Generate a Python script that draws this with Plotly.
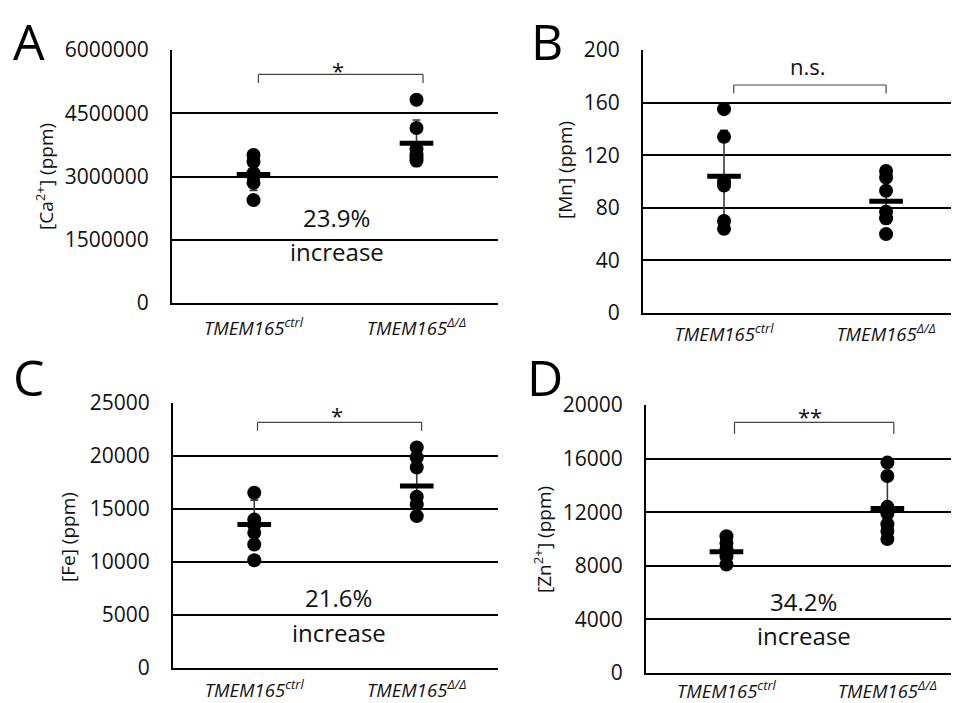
import plotly.graph_objects as go

# ---------------- data ----------------
groups = ["ctrl", "KO"]
group_labels = ["<i>TMEM165<sup>ctrl</sup></i>", "<i>TMEM165<sup>Δ/Δ</sup></i>"]

ca_ctrl = [3510000, 3350000, 3080000, 3000000, 2850000, 2440000]
ca_ko = [4820000, 4150000, 3650000, 3520000, 3450000, 3380000]
ca_mean = [3050000, 3790000]
ca_sd = [380000, 550000]

mn_ctrl = [155, 134, 100, 97, 70, 64]
mn_ko = [108, 103, 93, 77, 72, 60]
mn_mean = [104, 85]
mn_sd = [35, 17]

fe_ctrl = [16540, 14000, 13500, 12750, 11650, 10160]
fe_ko = [20800, 19860, 18910, 16160, 15430, 14330]
fe_mean = [13540, 17170]
fe_sd = [2300, 2600]

zn_ctrl = [10200, 9700, 9250, 9000, 8700, 8100]
zn_ko = [15700, 14700, 12400, 11900, 11100, 10600, 10000]
zn_mean = [9050, 12280]
zn_sd = [800, 2100]

y_titles = ["[Ca<sup>2+</sup>] (ppm)", "[Mn] (ppm)", "[Fe] (ppm)", "[Zn<sup>2+</sup>] (ppm)"]
panel_letters = ["A", "B", "C", "D"]
y_max = [6000000, 200, 25000, 20000]
y_step = [1500000, 40, 5000, 4000]
sig_labels = ["*", "n.s.", "*", "**"]
bracket_top = [5420000, 173.4, 23170, 18700]
bracket_foot = [5220000, 167, 22380, 17830]
sig_y = [5520000, 188, 23900, 19150]
pct_labels = ["23.9%", None, "21.6%", "34.2%"]
pct_y = [2016000, None, 6630, 5318]
inc_y = [1210000, None, 3314, 2772]

panels = [
    (ca_ctrl, ca_ko, ca_mean, ca_sd),
    (mn_ctrl, mn_ko, mn_mean, mn_sd),
    (fe_ctrl, fe_ko, fe_mean, fe_sd),
    (zn_ctrl, zn_ko, zn_mean, zn_sd),
]

# ---------------- layout geometry (screen pixels) ----------------
OFF = 8                       # default page body margin of the html page
W, H = 959 - OFF, 703 - OFF   # figure size so that it fills the window


def px(x):
    return (x - OFF) / W


def py(y):
    return 1 - (y - OFF) / H


boxes = [  # left, right, top, bottom
    (172, 498, 50, 303),
    (643, 959, 50, 313),
    (173, 498, 403, 668),
    (646, 959, 405, 673),
]
x_ranges = [[-0.5, 1.5], [-0.5, 1.45], [-0.5, 1.5], [-0.5, 1.445]]
x_label_gap = [8, 4, 5, 1]
letter_pos = [(29, 41), (547, 41), (29, 377), (545, 377)]
ytitle_pos = [(45, 177), (565, 170), (68, 537), (543, 540)]
bracket_x = [(0.03, 1.04), (0.06, 1.0), (0.02, 1.03), (0.05, 1.04)]
sig_x = [0.52, 0.52, 0.51, 0.52]
pct_x = [0.51, None, 0.52, 0.48]

FONT = "Open Sans"
INK = "#111111"

fig = go.Figure()
annotations = []
shapes = []

for i, (ctrl, ko, mean, sd) in enumerate(panels):
    n = "" if i == 0 else str(i + 1)
    xa, ya = "x" + n, "y" + n
    l, r, t, b = boxes[i]

    # error bars
    fig.add_trace(go.Scatter(
        x=groups, y=mean, mode="markers", xaxis=xa, yaxis=ya,
        marker=dict(color="rgba(0,0,0,0)", size=1),
        error_y=dict(type="data", array=sd, visible=True, color="#3a3a3a",
                     thickness=1.6, width=4),
        showlegend=False, hoverinfo="skip", cliponaxis=False))
    # individual points
    fig.add_trace(go.Scatter(
        x=[groups[0]] * len(ctrl) + [groups[1]] * len(ko), y=ctrl + ko,
        mode="markers", xaxis=xa, yaxis=ya,
        marker=dict(color="black", size=14, symbol="circle"),
        showlegend=False, cliponaxis=False))
    # mean bars
    fig.add_trace(go.Scatter(
        x=groups, y=mean, mode="markers", xaxis=xa, yaxis=ya,
        marker=dict(symbol="line-ew", size=24, line=dict(color="black", width=5)),
        showlegend=False, cliponaxis=False))

    axis_x = dict(
        domain=[px(l), min(px(r), 1.0)], anchor=ya, type="category", automargin=False,
        range=x_ranges[i], tickmode="array", tickvals=groups, ticktext=group_labels,
        showline=True, linecolor="black", linewidth=2, showgrid=False,
        ticks="", ticklabelstandoff=x_label_gap[i],
        tickfont=dict(family=FONT, size=18.5, color=INK), fixedrange=True)
    axis_y = dict(
        domain=[py(b), py(t)], anchor=xa, automargin=False,
        range=[0, y_max[i]], tickmode="linear", tick0=0, dtick=y_step[i],
        showline=True, linecolor="black", linewidth=2,
        showgrid=True, gridcolor="black", gridwidth=2, zeroline=False,
        ticks="", ticklabelstandoff=17,
        tickformat="d",
        tickfont=dict(family=FONT, size=21, color=INK), fixedrange=True)
    fig.update_layout(**{"xaxis" + n: axis_x, "yaxis" + n: axis_y})

    # panel letter
    annotations.append(dict(
        text=panel_letters[i], x=px(letter_pos[i][0]), y=py(letter_pos[i][1]),
        xref="paper", yref="paper", showarrow=False,
        font=dict(family=FONT, size=50, color="black"),
        xanchor="center", yanchor="middle"))
    # y title
    annotations.append(dict(
        text=y_titles[i], x=px(ytitle_pos[i][0]), y=py(ytitle_pos[i][1]),
        xref="paper", yref="paper", showarrow=False, textangle=-90,
        font=dict(family=FONT, size=19, color=INK),
        xanchor="center", yanchor="middle"))
    # significance bracket
    x0, x1 = bracket_x[i]
    for (xs, ys) in [((x0, x1), (bracket_top[i], bracket_top[i])),
                     ((x0, x0), (bracket_top[i], bracket_foot[i])),
                     ((x1, x1), (bracket_top[i], bracket_foot[i]))]:
        shapes.append(dict(
            type="line", xref=xa, yref=ya,
            x0=xs[0], x1=xs[1], y0=ys[0], y1=ys[1],
            line=dict(color="#444444", width=1.2)))
    annotations.append(dict(
        text=sig_labels[i], x=sig_x[i], y=sig_y[i], xref=xa, yref=ya,
        showarrow=False, font=dict(family=FONT, size=22, color=INK),
        xanchor="center", yanchor="middle"))
    # percent increase text
    if pct_labels[i]:
        annotations.append(dict(
            text=pct_labels[i], x=pct_x[i], y=pct_y[i], xref=xa, yref=ya,
            showarrow=False, font=dict(family=FONT, size=24, color=INK),
            xanchor="center", yanchor="middle"))
        annotations.append(dict(
            text="increase", x=pct_x[i], y=inc_y[i], xref=xa, yref=ya,
            showarrow=False, font=dict(family=FONT, size=24, color=INK),
            xanchor="center", yanchor="middle"))

fig.update_layout(
    width=W, height=H, margin=dict(l=0, r=0, t=0, b=0, autoexpand=False),
    paper_bgcolor="white", plot_bgcolor="white",
    annotations=annotations, shapes=shapes, showlegend=False,
)

fig.write_html("out.html")
